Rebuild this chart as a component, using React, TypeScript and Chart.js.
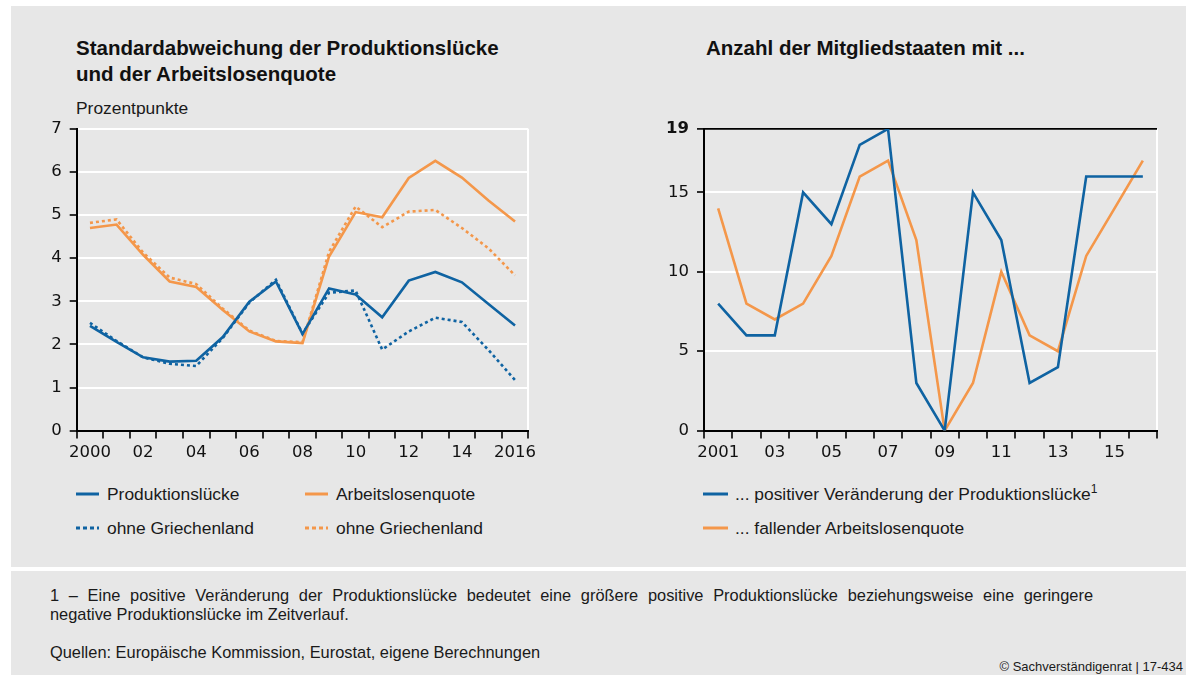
import React, { useEffect, useRef } from 'react';
import { Chart, registerables } from 'chart.js';

Chart.register(...registerables);

// ---------- Data: left chart ----------
const yearsLeft = ['2000', '2001', '2002', '2003', '2004', '2005', '2006', '2007', '2008', '2009', '2010', '2011', '2012', '2013', '2014', '2015', '2016'];
const xTickLabelsLeft = ['2000', '', '02', '', '04', '', '06', '', '08', '', '10', '', '12', '', '14', '', '2016'];
const prodGap = [2.43, 2.06, 1.70, 1.60, 1.62, 2.17, 2.99, 3.46, 2.24, 3.30, 3.16, 2.63, 3.48, 3.68, 3.44, 2.94, 2.44];
const prodGapExGR = [2.50, 2.08, 1.70, 1.55, 1.50, 2.15, 2.97, 3.50, 2.25, 3.20, 3.25, 1.88, 2.30, 2.62, 2.52, 1.87, 1.17];
const unempRate = [4.70, 4.78, 4.08, 3.46, 3.33, 2.80, 2.30, 2.07, 2.03, 4.04, 5.07, 4.95, 5.86, 6.26, 5.87, 5.34, 4.85];
const unempRateExGR = [4.82, 4.90, 4.13, 3.55, 3.40, 2.83, 2.32, 2.08, 2.05, 4.15, 5.20, 4.72, 5.08, 5.12, 4.70, 4.23, 3.60];
const yTicksLeft = [0, 1, 2, 3, 4, 5, 6, 7];

// ---------- Data: right chart ----------
const yearsRight = ['2001', '2002', '2003', '2004', '2005', '2006', '2007', '2008', '2009', '2010', '2011', '2012', '2013', '2014', '2015', '2016'];
const xTickLabelsRight = ['2001', '', '03', '', '05', '', '07', '', '09', '', '11', '', '13', '', '15', ''];
const posGapCount = [8, 6, 6, 15, 13, 18, 19, 3, 0, 15, 12, 3, 4, 16, 16, 16];
const fallingUnempCount = [14, 8, 7, 8, 11, 16, 17, 12, 0, 3, 10, 6, 5, 11, 14, 17];
const yTicksRight = [0, 5, 10, 15, 19];

const BLUE = '#0f63a2';
const ORANGE = '#f4974a';
const PANEL = '#e7e7e7';
const TICK_FONT = 'DejaVu Sans';
const TEXT_FONT = "'Liberation Sans', Arial, sans-serif";

type ChartSpec = {
  labels: string[];
  tickLabels: string[];
  datasets: any[];
  yMax: number;
  yTicks: number[];
  topLineBlack: boolean;
  yWidth: number;
  padRight: number;
};

function buildConfig(spec: ChartSpec): any {
  return {
    type: 'line',
    data: { labels: spec.labels, datasets: spec.datasets },
    options: {
      responsive: false,
      animation: false,
      events: [],
      layout: { padding: { top: 0, right: spec.padRight, bottom: 0, left: 0 } },
      plugins: { legend: { display: false }, tooltip: { enabled: false }, title: { display: false } },
      elements: { point: { radius: 0 }, line: { tension: 0 } },
      scales: {
        x: {
          type: 'category',
          offset: true,
          afterFit: (s: any) => { s.height = 40.4; },
          grid: {
            offset: true,
            drawOnChartArea: true,
            color: (c: any) => (c.tick ? 'rgba(0,0,0,0)' : '#ffffff'),
            lineWidth: 2,
            tickColor: '#000000',
            tickLength: 8,
            tickWidth: 1.6,
          },
          border: { display: true, color: '#000000', width: 2 },
          ticks: {
            autoSkip: false,
            maxRotation: 0,
            minRotation: 0,
            padding: 4,
            color: '#111111',
            font: { family: TICK_FONT, size: 16.5 },
            callback: (_v: any, i: number) => spec.tickLabels[i],
          },
        },
        y: {
          type: 'linear',
          min: 0,
          max: spec.yMax,
          afterFit: (s: any) => { s.width = spec.yWidth; },
          afterBuildTicks: (s: any) => { s.ticks = spec.yTicks.map((v) => ({ value: v })); },
          grid: {
            color: (c: any) => {
              const v = c.tick ? c.tick.value : null;
              if (v === 0) return 'rgba(0,0,0,0)';
              if (v === spec.yMax && spec.topLineBlack) return '#000000';
              return '#ffffff';
            },
            lineWidth: (c: any) => (c.tick && c.tick.value === spec.yMax && spec.topLineBlack ? 1.8 : 2),
            tickColor: '#000000',
            tickLength: 7,
            tickWidth: 1.6,
          },
          border: { display: true, color: '#000000', width: 2 },
          ticks: {
            padding: 8,
            color: '#111111',
            font: (c: any) => ({
              family: TICK_FONT,
              size: 16.5,
              weight: c.tick && c.tick.value === 19 ? 'bold' : 'normal',
            }),
            callback: (v: any) => String(v),
          },
        },
      },
    },
  };
}

function LineChart({ spec, left, top, width, height }: { spec: ChartSpec; left: number; top: number; width: number; height: number }) {
  const ref = useRef<HTMLCanvasElement | null>(null);
  useEffect(() => {
    if (!ref.current) return;
    const chart = new Chart(ref.current, buildConfig(spec));
    return () => chart.destroy();
  }, []);
  return (
    <canvas
      ref={ref}
      width={width}
      height={height}
      style={{ position: 'absolute', left, top, width, height }}
    />
  );
}

function Sample({ color, dotted, left, cy, width }: { color: string; dotted?: boolean; left: number; cy: number; width: number }) {
  return (
    <svg style={{ position: 'absolute', left, top: cy - 3 }} width={width} height={6}>
      <line
        x1={0}
        y1={3}
        x2={width}
        y2={3}
        stroke={color}
        strokeWidth={3}
        strokeDasharray={dotted ? '4 3' : undefined}
      />
    </svg>
  );
}

function Label({ left, cy, children, size = 17.4 }: { left: number; cy: number; children: any; size?: number }) {
  return (
    <div
      style={{
        position: 'absolute',
        left,
        top: cy - 11,
        height: 22,
        lineHeight: '22px',
        fontSize: size,
        color: '#1a1a1a',
        whiteSpace: 'nowrap',
        fontFamily: TEXT_FONT,
      }}
    >
      {children}
    </div>
  );
}

export default function App() {
  const leftSpec: ChartSpec = {
    labels: yearsLeft,
    tickLabels: xTickLabelsLeft,
    yMax: 7,
    yTicks: yTicksLeft,
    topLineBlack: false,
    yWidth: 56.7,
    padRight: 31.7,
    datasets: [
      { label: 'Produktionslücke', data: prodGap, borderColor: BLUE, borderWidth: 2.6, fill: false },
      { label: 'Arbeitslosenquote', data: unempRate, borderColor: ORANGE, borderWidth: 2.6, fill: false },
      { label: 'ohne Griechenland (PL)', data: prodGapExGR, borderColor: BLUE, borderWidth: 2.6, borderDash: [3, 3], fill: false },
      { label: 'ohne Griechenland (AQ)', data: unempRateExGR, borderColor: ORANGE, borderWidth: 2.6, borderDash: [3, 3], fill: false },
    ],
  };
  const rightSpec: ChartSpec = {
    labels: yearsRight,
    tickLabels: xTickLabelsRight,
    yMax: 19,
    yTicks: yTicksRight,
    topLineBlack: true,
    yWidth: 64,
    padRight: 23,
    datasets: [
      { label: '... positiver Veränderung der Produktionslücke', data: posGapCount, borderColor: BLUE, borderWidth: 2.6, fill: false },
      { label: '... fallender Arbeitslosenquote', data: fallingUnempCount, borderColor: ORANGE, borderWidth: 2.6, fill: false },
    ],
  };

  const footerStyle: any = {
    position: 'absolute',
    left: 50,
    fontSize: 16.4,
    lineHeight: '19px',
    color: '#1a1a1a',
    whiteSpace: 'nowrap',
  };

  return (
    <div
      style={{
        position: 'absolute',
        left: 0,
        top: 0,
        width: 1186,
        height: 675,
        background: '#ffffff',
        overflow: 'hidden',
        fontFamily: TEXT_FONT,
      }}
    >
      <div style={{ position: 'absolute', left: 11, top: 6, width: 1175, height: 561, background: PANEL }} />
      <div style={{ position: 'absolute', left: 11, top: 571, width: 1175, height: 104, background: PANEL }} />

      {/* Titles */}
      <div
        style={{
          position: 'absolute',
          left: 76,
          top: 35,
          fontSize: 20.5,
          lineHeight: '26px',
          fontWeight: 'bold',
          color: '#111',
          whiteSpace: 'nowrap',
        }}
      >
        Standardabweichung der Produktionslücke
        <br />
        und der Arbeitslosenquote
      </div>
      <div
        style={{
          position: 'absolute',
          left: 706,
          top: 35,
          fontSize: 20.5,
          lineHeight: '26px',
          fontWeight: 'bold',
          color: '#111',
          whiteSpace: 'nowrap',
        }}
      >
        Anzahl der Mitgliedstaaten mit ...
      </div>
      <Label left={76} cy={108}>Prozentpunkte</Label>

      <LineChart spec={leftSpec} left={20} top={111.1} width={540} height={360} />
      <LineChart spec={rightSpec} left={640} top={111.1} width={540} height={360} />

      {/* Left legend */}
      <Sample color={BLUE} left={76} cy={494} width={23} />
      <Label left={107} cy={494}>Produktionslücke</Label>
      <Sample color={ORANGE} left={305} cy={494} width={23} />
      <Label left={336} cy={494}>Arbeitslosenquote</Label>
      <Sample color={BLUE} dotted left={76} cy={528} width={23} />
      <Label left={107} cy={528}>ohne Griechenland</Label>
      <Sample color={ORANGE} dotted left={305} cy={528} width={23} />
      <Label left={336} cy={528}>ohne Griechenland</Label>

      {/* Right legend */}
      <Sample color={BLUE} left={703} cy={494} width={25} />
      <Label left={735} cy={494}>
        ... positiver Veränderung der Produktionslücke
        <span style={{ fontSize: 12, position: 'relative', top: -7 }}>1</span>
      </Label>
      <Sample color={ORANGE} left={703} cy={528} width={25} />
      <Label left={735} cy={528}>... fallender Arbeitslosenquote</Label>

      {/* Footer */}
      <div style={{ ...footerStyle, top: 585.5, width: 1043, textAlign: 'justify', textAlignLast: 'justify', whiteSpace: 'normal' }}>
        1 – Eine positive Veränderung der Produktionslücke bedeutet eine größere positive Produktionslücke beziehungsweise eine geringere
      </div>
      <div style={{ ...footerStyle, top: 604.5 }}>negative Produktionslücke im Zeitverlauf.</div>
      <div style={{ ...footerStyle, top: 642.5 }}>Quellen: Europäische Kommission, Eurostat, eigene Berechnungen</div>
      <div
        style={{
          position: 'absolute',
          right: 3,
          top: 659,
          fontSize: 13,
          lineHeight: '15px',
          color: '#1a1a1a',
          whiteSpace: 'nowrap',
        }}
      >
        © Sachverständigenrat | 17-434
      </div>
    </div>
  );
}
